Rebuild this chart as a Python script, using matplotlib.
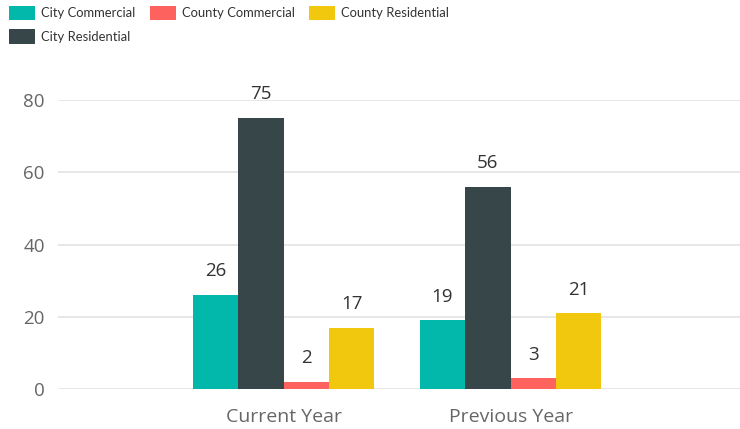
import matplotlib
matplotlib.use("Agg")
import matplotlib.pyplot as plt
from matplotlib.patches import Patch
import numpy as np

plt.rcParams["font.family"] = ["Open Sans", "DejaVu Sans"]

# data
categories = ["Current Year", "Previous Year"]
series_names = ["City Commercial", "City Residential", "County Commercial", "County Residential"]
city_commercial = [26, 19]
city_residential = [75, 56]
county_commercial = [2, 3]
county_residential = [17, 21]
yticks = [0, 20, 40, 60, 80]

colors = ["#01B8AA", "#374649", "#FD625E", "#F2C80F"]
series = [city_commercial, city_residential, county_commercial, county_residential]

fig = plt.figure(figsize=(7.4, 4.29), dpi=100)
ax = fig.add_axes([58 / 740, 1 - 389 / 429, 1 - 58 / 740, (389 - 100) / 429])

x = np.arange(len(categories))
w = 0.2
for i, (vals, c) in enumerate(zip(series, colors)):
    pos = x + (i - 1.5) * w
    bars = ax.bar(pos, vals, width=w, color=c, zorder=3)
    for b, v in zip(bars, vals):
        ax.annotate(str(v), (b.get_x() + b.get_width() / 2, v), xytext=(0, 10.5),
                    textcoords="offset points", ha="center", va="bottom",
                    fontsize=13.5, color="#333333", clip_on=False)

ax.set_xlim(-0.993, 2.01)
ax.set_ylim(0, 80)
ax.set_yticks(yticks)
ax.set_xticks(x)
ax.set_xticklabels(categories)
ax.grid(axis="y", color="#e3e3e3", linewidth=1.2, zorder=0)
for s in ax.spines.values():
    s.set_visible(False)
ax.tick_params(axis="y", length=0, pad=9.5, labelsize=13.5, labelcolor="#666666")
ax.tick_params(axis="x", length=0, pad=13.5, labelsize=14, labelcolor="#666666")

handles = [Patch(facecolor=c, label=n) for c, n in zip(colors, series_names)]
fig.legend(handles=handles, loc="upper left", bbox_to_anchor=(9 / 740, 1 - 6 / 429),
           ncol=3, frameon=False, borderpad=0, borderaxespad=0,
           prop={"family": ["Lato", "DejaVu Sans"], "size": 9.4},
           handlelength=2.0, handleheight=1.3, handletextpad=0.45,
           columnspacing=1.1, labelspacing=0.7, labelcolor="#333333")

fig.savefig("out.png", dpi=100)
